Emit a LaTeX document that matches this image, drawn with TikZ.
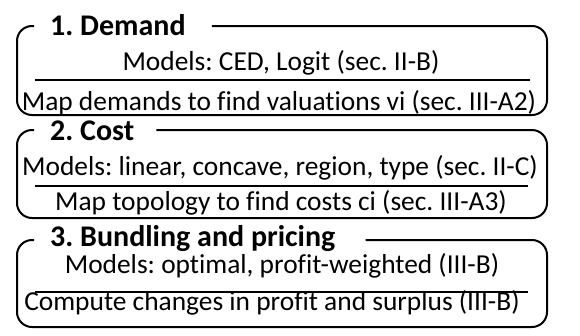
\documentclass[tikz,border=0pt]{standalone}
\usepackage{fontspec}
\setmainfont[Ligatures=NoCommon]{Carlito}
\frenchspacing
\begin{document}
\begin{tikzpicture}[x=1pt,y=-1pt,
  frame/.style={line width=2pt, rounded corners=15pt},
  sep/.style={line width=2pt},
  ttl/.style={anchor=base west, inner sep=0pt, font=\fontsize{30}{34}\selectfont\bfseries},
  txt/.style={anchor=base, inner sep=0pt, font=\fontsize{27.4}{32}\selectfont}]
\useasboundingbox (0,0) rectangle (580,335);
% Box 1
\node[ttl] (t1) at (50,35) {1. Demand};
\node[txt] (a1) at (281,70) {Models: CED, Logit (sec. II-B)};
\node[txt] (b1) at (279,110) {Map demands to find valuations vi (sec. III-A2)};
\coordinate (top1) at (0,26);
\coordinate (l1) at ([xshift=26pt]t1.east);
\coordinate (s1a) at (35,80); \coordinate (s1b) at (530,80);
\draw[frame] (l1 |- top1) -- (547,26) -- (547,115) -- (17,115) -- (17,26) -- (34,26);
\draw[sep] (s1a) -- (s1b);
% Box 2
\node[ttl] (t2) at (50,140) {2. Cost};
\node[txt] (a2) at (280,175) {Models: linear, concave, region, type (sec. II-C)};
\node[txt] (b2) at (281,210) {Map topology to find costs ci (sec. III-A3)};
\coordinate (top2) at (0,130);
\coordinate (l2) at ([xshift=22pt]t2.east);
\coordinate (s2a) at (35,186); \coordinate (s2b) at (528,186);
\draw[frame] (l2 |- top2) -- (547,130) -- (547,218) -- (17,218) -- (17,130) -- (34,130);
\draw[sep] (s2a) -- (s2b);
% Box 3
\node[ttl] (t3) at (50,246) {3. Bundling and pricing};
\node[txt] (a3) at (282,273) {Models: optimal, profit-weighted (III-B)};
\node[txt] (b3) at (272,310) {Compute changes in profit and surplus (III-B)};
\coordinate (top3) at (0,240);
\coordinate (l3) at ([xshift=30pt]t3.east);
\coordinate (s3a) at (35,292); \coordinate (s3b) at (528,292);
\draw[frame] (l3 |- top3) -- (547,240) -- (547,327) -- (17,327) -- (17,240) -- (34,240);
\draw[sep] (s3a) -- (s3b);
\end{tikzpicture}
\end{document}
